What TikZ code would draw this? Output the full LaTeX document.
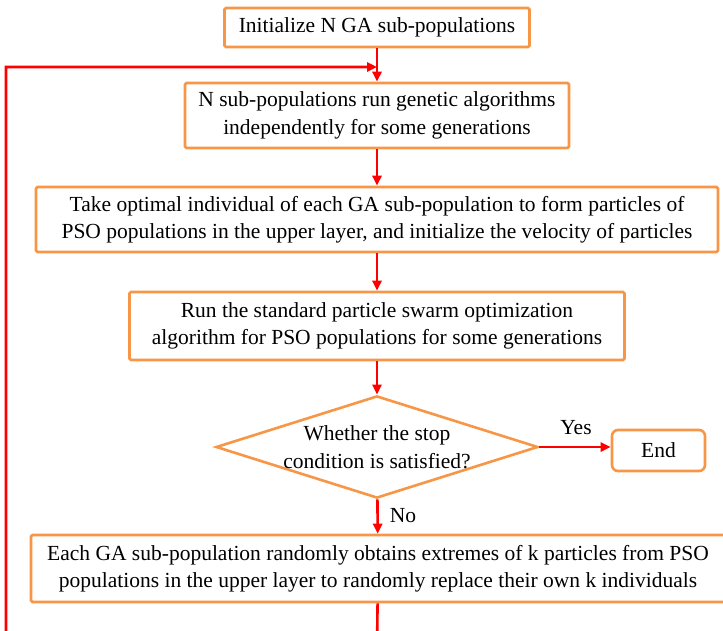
\documentclass[tikz,border=0pt]{standalone}
\usepackage{fontspec}
\setmainfont{Liberation Serif}
\usetikzlibrary{arrows.meta,shapes.geometric}
\definecolor{boxorange}{RGB}{247,150,70}
\begin{document}
\begin{tikzpicture}[x=1pt,y=-1pt,
  flowbox/.style={draw=boxorange,line width=2.6pt,fill=white,align=center,inner sep=0pt,
    rounded corners=1.5pt,font=\fontsize{21.5}{27.5}\selectfont},
  flowlabel/.style={font=\fontsize{21.5}{27.5}\selectfont,inner sep=0pt},
  flowline/.style={draw=red,line width=2.6pt,-{Triangle[length=10pt,width=9pt]}}]
\clip (0,0) rectangle (723,630);
\pgfmathsetmacro{\kx}{377}
\node[flowbox,minimum width=305pt,minimum height=39pt](init) at (\kx,27.5){Initialize N GA sub-populations};
\node[flowbox,minimum width=384pt,minimum height=65pt](ga) at (\kx,115.5){N sub-populations run genetic algorithms\\independently for some generations};
\node[flowbox,minimum width=682pt,minimum height=65pt](pso) at (\kx,219.5){Take optimal individual of each GA sub-population to form particles of\\PSO populations in the upper layer, and initialize the velocity of particles};
\node[flowbox,minimum width=495pt,minimum height=68pt](run) at (\kx,326){Run the standard particle swarm optimization\\algorithm for PSO populations for some generations};
\node[flowbox,shape=diamond,aspect=3.15,rounded corners=0pt](cond) at (\kx,447){Whether the stop\\condition is satisfied?};
\node[flowbox,rounded corners=6pt,minimum width=93pt,minimum height=41pt](end) at (658.5,450.5){End};
\node[flowbox,minimum width=694pt,minimum height=67pt](swap) at (378,568.5){Each GA sub-population randomly obtains extremes of k particles from PSO\\populations in the upper layer to randomly replace their own k individuals};
\node[flowlabel](yes) at (576,428){Yes};
\node[flowlabel](no) at (403,516){No};
\coordinate (loopbot) at (\kx,650);
\coordinate (loopleft) at (6,650);
\coordinate (looptop) at (6,67);
% main flow
\draw[flowline] (init) -- (ga);
\draw[flowline] (ga) -- (pso);
\draw[flowline] (pso) -- (run);
\draw[flowline] (run) -- (cond);
\draw[flowline] (cond.east) -- (cond.east -| end.west);
\draw[flowline] (cond) -- (swap);
% back to the GA step
\draw[flowline] (swap) -- (loopbot) -- (loopleft) -- (looptop) -- (looptop -| ga.north);
\end{tikzpicture}
\end{document}
